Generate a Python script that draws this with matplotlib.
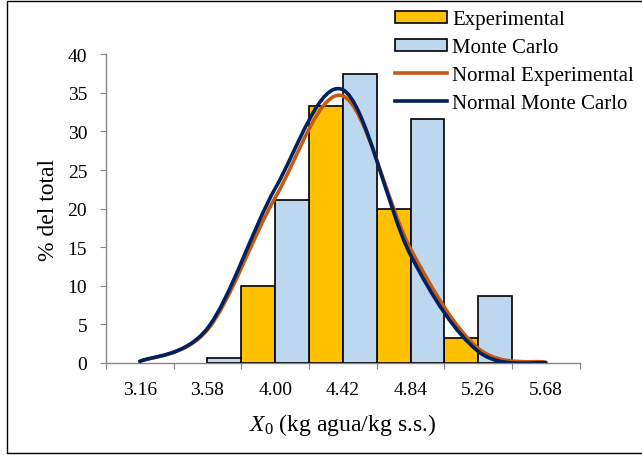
import numpy as np
import matplotlib
matplotlib.use("Agg")
import matplotlib.pyplot as plt
from matplotlib.path import Path
from matplotlib.patches import PathPatch, Patch, Rectangle
from matplotlib.lines import Line2D

# Données
categories = ["3.16", "3.58", "4.00", "4.42", "4.84", "5.26", "5.68"]
experimental = [0, 0, 10.0, 33.3, 20.0, 3.3, 0]
monte_carlo = [0, 0.6, 21.1, 37.5, 31.6, 8.7, 0]
normal_exp = [0.2, 4.3, 21.4, 34.6, 14.8, 1.9, 0.1]
normal_mc = [0.2, 4.5, 22.6, 35.4, 14.0, 1.5, 0.0]

plt.rcParams["font.family"] = ["Liberation Serif", "DejaVu Serif"]
plt.rcParams["mathtext.fontset"] = "custom"
plt.rcParams["mathtext.rm"] = "Liberation Serif"
plt.rcParams["mathtext.it"] = "Liberation Serif:italic"

C_EXP = "#FFC000"
C_MC = "#BDD7EE"
C_NEXP = "#C55A11"
C_NMC = "#002060"
C_AXIS = "#868686"


# Courbe lissée façon Excel (Bezier, tension 1/6)
def smooth_path(xs, ys):
    pts = np.column_stack([xs, ys]).astype(float)
    n = len(pts)
    verts = [pts[0]]
    codes = [Path.MOVETO]
    for i in range(n - 1):
        p0 = pts[i - 1] if i > 0 else pts[i]
        p1 = pts[i]
        p2 = pts[i + 1]
        p3 = pts[i + 2] if i + 2 < n else pts[i + 1]
        c1 = p1 + (p2 - p0) / 6.0
        c2 = p2 - (p3 - p1) / 6.0
        verts += [c1, c2, p2]
        codes += [Path.CURVE4] * 3
    return Path(verts, codes)


fig = plt.figure(figsize=(6.42, 4.56), dpi=100)
ax = fig.add_axes([0.165, 0.2018, 0.738, 0.677])

x = np.arange(len(categories))
ec_exp = ["black" if v > 0 else "none" for v in experimental]
ec_mc = ["black" if v > 0 else "none" for v in monte_carlo]
ax.bar(x - 0.25, experimental, width=0.5, color=C_EXP, edgecolor=ec_exp, linewidth=1.2, zorder=2)
ax.bar(x + 0.25, monte_carlo, width=0.5, color=C_MC, edgecolor=ec_mc, linewidth=1.2, zorder=2)

for vals, col in [(normal_exp, C_NEXP), (normal_mc, C_NMC)]:
    patch = PathPatch(smooth_path(x, vals), facecolor="none", edgecolor=col,
                      linewidth=2.6, capstyle="round", zorder=3)
    ax.add_patch(patch)

ax.set_xlim(-0.5, len(categories) - 0.5)
ax.set_ylim(0, 40)
ax.set_yticks(np.arange(0, 41, 5))
ax.set_xticks(np.arange(-0.5, len(categories), 1.0))
ax.set_xticklabels([])
ax.set_xticks(x, minor=True)
ax.set_xticklabels(categories, minor=True)
ax.tick_params(axis="x", which="minor", length=0, pad=13, labelsize=14)
ax.tick_params(axis="x", which="major", length=4.5, color=C_AXIS)
ax.tick_params(axis="y", length=4.5, color=C_AXIS, labelsize=14, pad=9)

for s in ["top", "right"]:
    ax.spines[s].set_visible(False)
for s in ["left", "bottom"]:
    ax.spines[s].set_color(C_AXIS)
    ax.spines[s].set_linewidth(1.0)
ax.spines["bottom"].set_zorder(1)

ax.set_ylabel("% del total", fontsize=17, labelpad=6)
ax.set_xlabel(r"$\mathit{X}_0$ (kg agua/kg s.s.)", fontsize=17, labelpad=9)

handles = [
    Patch(facecolor=C_EXP, edgecolor="black", linewidth=1.2),
    Patch(facecolor=C_MC, edgecolor="black", linewidth=1.2),
    Line2D([], [], color=C_NEXP, linewidth=2.6),
    Line2D([], [], color=C_NMC, linewidth=2.6),
]
labels = ["Experimental", "Monte Carlo", "Normal Experimental", "Normal Monte Carlo"]
fig.legend(handles, labels, loc="upper left", bbox_to_anchor=(0.609, 0.985),
           frameon=False, fontsize=15, handlelength=2.5, handleheight=0.51,
           handletextpad=0.25, labelspacing=0.43, borderpad=0.2, borderaxespad=0)

fig.add_artist(Rectangle((0.011, 0.004), 1.0, 0.992, transform=fig.transFigure,
                         fill=False, edgecolor="black", linewidth=1.0, clip_on=False))

fig.savefig("out.png", dpi=100)
